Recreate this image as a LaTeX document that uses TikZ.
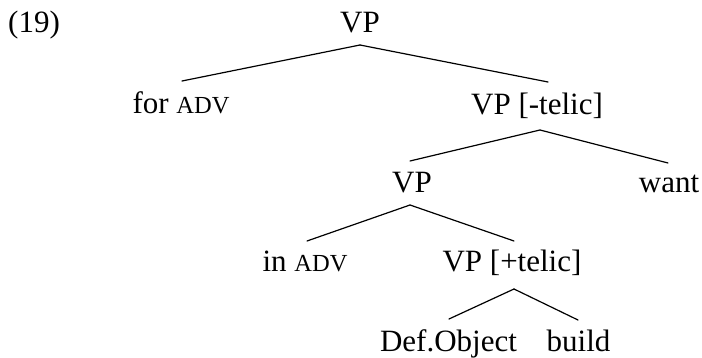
\documentclass[tikz,border=0pt]{standalone}
\usepackage{fontspec}
\setmainfont{Liberation Serif}
\usetikzlibrary{calc}
\newcommand{\sccaps}[1]{{\fontsize{24.5}{25}\selectfont #1}}
\tikzset{
  lbl/.style={inner sep=0pt, anchor=base, font=\fontsize{31}{36}\selectfont},
  branch/.style={line width=1.2pt, line cap=round}
}
\begin{document}
\begin{tikzpicture}[x=1pt, y=-1pt]
  \useasboundingbox (0,0) rectangle (702,358);
  % example number
  \node[lbl, anchor=base west] (ex) at (8,33) {(19)};
  % tree labels
  \node[lbl] (vp0)   at (360,33)    {VP};
  \node[lbl] (forad) at (181,114)   {for \sccaps{ADV}};
  \node[lbl] (vptel) at (537,115)   {VP [-telic]};
  \node[lbl] (vp2)   at (412,193)   {VP};
  \node[lbl] (want)  at (669,193)   {want};
  \node[lbl] (inad)  at (305,272)   {in \sccaps{ADV}};
  \node[lbl] (vpplu) at (512,272)   {VP [+telic]};
  \node[lbl] (defob) at (448.5,352) {Def.Object};
  \node[lbl] (build) at (578.5,352) {build};
  % branches
  \draw[branch] ($(vp0.base)+(0,12)$) -- ($(forad.base)+(1,-33)$);
  \draw[branch] ($(vp0.base)+(0,12)$) -- ($(vptel.base)+(11,-33)$);
  \draw[branch] ($(vptel.base)+(3,15)$) -- ($(vp2.base)+(-2,-32)$);
  \draw[branch] ($(vptel.base)+(3,15)$) -- ($(want.base)+(-1,-30)$);
  \draw[branch] ($(vp2.base)+(-2,12)$) -- ($(inad.base)+(2,-31)$);
  \draw[branch] ($(vp2.base)+(-2,12)$) -- ($(vpplu.base)+(2,-31)$);
  \draw[branch] ($(vpplu.base)+(2,17)$) -- ($(defob.base)+(0.5,-33)$);
  \draw[branch] ($(vpplu.base)+(2,17)$) -- ($(build.base)+(-0.5,-32)$);
\end{tikzpicture}
\end{document}
